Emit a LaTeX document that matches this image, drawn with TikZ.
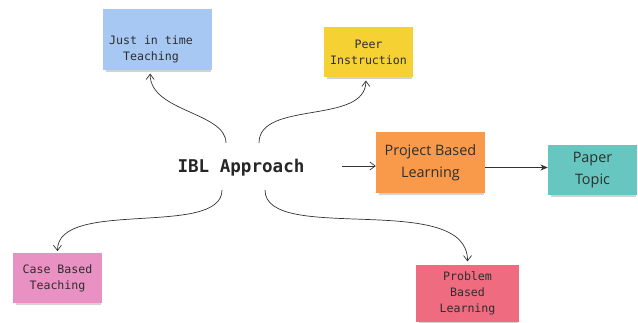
\documentclass[tikz,border=0pt]{standalone}
\usepackage{fontspec}
\setmonofont{DejaVu Sans Mono}
\setsansfont{Open Sans}
\usetikzlibrary{positioning, arrows.meta, shadows}
\definecolor{jitblue}{HTML}{A7C8F2}
\definecolor{peeryellow}{HTML}{F5D133}
\definecolor{projorange}{HTML}{F99A4B}
\definecolor{paperteal}{HTML}{67C6C0}
\definecolor{casepink}{HTML}{E991C3}
\definecolor{probred}{HTML}{EF6B80}
\definecolor{inktext}{HTML}{2E2E2E}
\tikzset{
    sticky/.style={rectangle, inner sep=0pt, align=center, text=inktext,
        drop shadow={shadow xshift=1pt, shadow yshift=-2.5pt, shadow scale=0.96, opacity=.25, fill=black!70}},
    monotext/.style={font=\ttfamily\fontsize{9.9}{13.6}\selectfont},
    sanstext/.style={font=\sffamily\fontsize{12.3}{19}\selectfont},
    bignote/.style={sticky, minimum width=3.27cm, minimum height=1.83cm},
    smallnote/.style={sticky, minimum width=2.67cm, minimum height=1.5cm},
    curly/.style={draw=black!80, semithick, -{Straight Barb[length=1.6mm,width=2.4mm]}},
}

\begin{document}
\begin{tikzpicture}[x=0.03cm, y=-0.03cm]
\useasboundingbox (0,0) rectangle (638,322);

% centre label
\node[font=\ttfamily\bfseries\fontsize{15}{18}\selectfont, text=black!85] (ibl) at (241,168) {IBL Approach};

% notes
\node[bignote, fill=jitblue] (jit) at (157.5,39.5) {};
\node[monotext, text=inktext, align=center] (jittext) at (151,49) {Just in time\\Teaching};
\node[smallnote, fill=peeryellow, monotext] (peer) at (368.5,52) {Peer\\Instruction};
\node[bignote, fill=projorange, sanstext] (proj) at (430.5,162.5) {Project Based\\Learning};
\node[smallnote, fill=paperteal, sanstext] (paper) at (592.5,170) {Paper\\Topic};
\node[smallnote, fill=casepink, monotext] (case) at (57.5,278) {Case Based\\Teaching};
\node[sticky, fill=probred, monotext, minimum width=3.09cm, minimum height=1.71cm] (prob) at (467.5,293.5) {Problem\\Based\\Learning};

% branch start points under / above the label
\coordinate (jitfrom) at (226,143);
\coordinate (peerfrom) at (259,143);
\coordinate (casefrom) at (222,190);
\coordinate (probfrom) at (265,190);
\coordinate (projfrom) at (342,166);

\draw[curly] (jitfrom) .. controls (226,112) and (150,112) .. ([xshift=-0.22cm, yshift=-0.1cm]jit.south);
\draw[curly] (peerfrom) .. controls (259,100) and (366,125) .. ([xshift=-0.08cm, yshift=-0.1cm]peer.south);
\draw[curly] (casefrom) .. controls (222,238) and (57,198) .. ([yshift=0.05cm]case.north);
\draw[curly] (probfrom) .. controls (265,245) and (468,190) .. ([yshift=0.1cm]prob.north);
\draw[curly] (projfrom) -- (projfrom -| proj.west);
\draw[black!80, semithick, -{Stealth[length=2.2mm,width=1.8mm]}] ([yshift=-0.15cm]proj.east) -- ([yshift=-0.15cm]proj.east -| paper.west);
\end{tikzpicture}
\end{document}
